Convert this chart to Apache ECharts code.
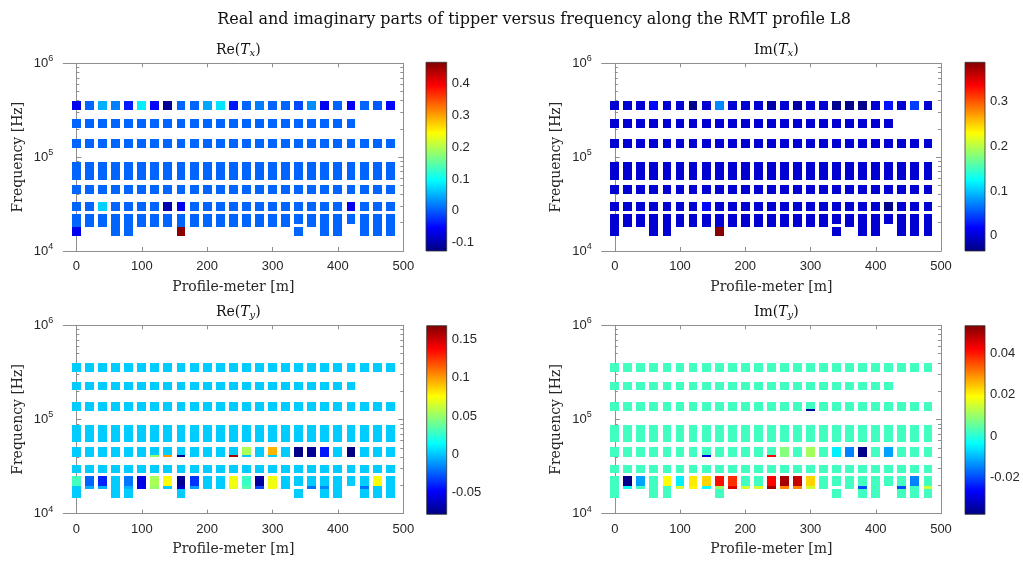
<!DOCTYPE html>
<html>
<head>
<meta charset="utf-8">
<script src="https://cdn.jsdelivr.net/npm/echarts@6/dist/echarts.min.js"></script>
<style>
  html, body { margin: 0; padding: 0; background: #fff; }
  #chart { width: 1023px; height: 561px; }
</style>
</head>
<body>
<div id="chart"></div>
<script>
// ---------- data ----------
// station positions along the profile [m]
var stations = [0, 20, 40, 60, 80, 100, 120, 140, 160, 180, 200, 220, 240, 260, 280, 300, 320, 340, 360, 380, 400, 420, 440, 460, 480];

// frequency bands [Hz], top to bottom (row 3, row 5 and row 7 carry a thin lower strip)
var bandHigh = [394e3, 252e3, 155e3, 128e3, 88e3, 51e3, 42e3, 33.2e3, 24.8e3, 19.5e3, 18.1e3];
var bandLow  = [321e3, 205e3, 128e3, 124e3, 57e3, 42e3, 40e3, 26.8e3, 19.5e3, 18.1e3, 14.6e3];

// one row per band, one value per station (null = no data)
var reTx = [
  [-0.06, 0.006, 0.05, 0.022, -0.037, 0.087, -0.05, -0.114, 0.006, 0.006, 0.045, 0.08, -0.04, 0.006, 0.02, 0.006, 0.006, -0.01, 0.03, -0.06, 0.006, -0.055, 0.006, 0, -0.05],
  [0.006, 0.006, 0.006, 0.006, 0.006, 0.006, 0.006, 0.006, 0.006, 0.006, 0.006, 0.006, 0.006, 0.006, 0.006, 0.006, 0.006, 0.006, 0.006, 0.006, 0.006, 0.006, null, null, null],
  [0.006, 0.006, 0.006, 0.006, 0.006, 0.006, 0.006, 0.006, 0.006, 0.006, 0.006, 0.006, 0.006, 0.006, 0.006, 0.006, 0.006, 0.006, 0.006, 0.006, 0.006, 0.006, 0.006, 0.006, 0.006],
  [0.006, 0.006, 0.006, 0.006, 0.006, 0.006, 0.006, 0.006, 0.006, 0.006, 0.006, 0.006, 0.006, 0.006, 0.006, 0.006, 0.006, 0.006, 0.006, 0.006, 0.006, 0.006, 0.006, 0.006, 0.006],
  [0.006, 0.006, 0.006, 0.006, 0.006, 0.006, 0.006, 0.006, 0.006, 0.006, 0.006, 0.006, 0.006, 0.006, 0.006, 0.006, 0.006, 0.006, 0.006, 0.006, 0.006, 0.006, 0.006, 0.006, 0.006],
  [0.006, 0.006, 0.006, 0.006, 0.006, 0.006, 0.006, 0.006, 0.006, 0.006, 0.006, 0.006, 0.006, 0.006, 0.006, 0.006, 0.006, 0.006, 0.006, 0.006, 0.006, 0.006, 0.006, 0.006, 0.006],
  [0.006, 0.006, 0.006, 0.006, 0.006, 0.006, 0.006, 0.006, 0.006, 0.006, 0.006, 0.006, 0.006, 0.006, 0.006, 0.006, 0.006, 0.006, 0.006, 0.006, 0.006, 0.006, 0.006, 0.006, 0.006],
  [0.006, 0.006, 0.07, 0.006, 0.006, 0.006, 0.006, -0.1, -0.06, 0.006, 0.006, 0.006, 0.006, 0.006, 0.006, 0.006, 0.006, 0.006, 0.006, 0.006, 0.006, -0.06, 0.006, 0.006, 0.006],
  [0.006, 0.006, 0.006, 0.006, 0.006, 0.006, 0.006, 0.006, 0.006, 0.006, 0.006, 0.006, 0.006, 0.006, 0.006, 0.006, 0.006, 0.006, 0.006, 0.006, 0.006, 0.006, 0.006, 0.006, 0.006],
  [0.006, 0.006, 0.006, 0.006, 0.006, 0.006, 0.006, 0.006, 0.006, 0.006, 0.006, 0.006, 0.006, 0.006, 0.006, 0.006, 0.006, null, 0.006, 0.006, 0.006, null, 0.006, 0.006, 0.006],
  [-0.06, null, null, 0.006, 0.006, null, null, null, 0.46, null, null, null, null, null, null, null, null, 0.006, null, 0.006, 0.006, null, 0.006, 0.006, 0.006]
];

var imTx = [
  [0, 0, 0, 0.021, 0, 0, -0.03, 0, 0.075, 0, 0, 0, -0.017, 0, -0.02, 0, 0, -0.027, -0.03, -0.03, 0, 0.025, 0, 0.044, 0],
  [0, 0, 0, 0, 0, 0, 0, 0, 0, 0, 0, 0, 0, 0, 0, 0, 0, 0, 0, 0, 0, 0, null, null, null],
  [0, 0, 0, 0, 0, 0, 0, 0, 0, 0, 0, 0, 0, 0, 0, 0, 0, 0, 0, 0, 0, 0, 0, 0, 0],
  [0, 0, 0, 0, 0, 0, 0, 0, 0, 0, 0, 0, 0, 0, 0, 0, 0, 0, 0, 0, 0, 0, 0, 0, 0],
  [0, 0, 0, 0, 0, 0, 0, 0, 0, 0, 0, 0, 0, 0, 0, 0, 0, 0, 0, 0, 0, 0, 0, 0, 0],
  [0, 0, 0, 0, 0, 0, 0, 0, 0, 0, 0, 0, 0, 0, 0, 0, 0, 0, 0, 0, 0, 0, 0, 0, 0],
  [0, 0, 0, 0, 0, 0, 0, 0, 0, 0, 0, 0, 0, 0, 0, 0, 0, 0, 0, 0, 0, 0, 0, 0, 0],
  [0, 0, 0, 0, 0, 0, 0, 0.02, 0, 0, 0, 0, 0, 0, 0, 0, 0, 0, 0, 0, 0, -0.03, 0, 0, 0],
  [0, 0, 0, 0, 0, 0, 0, 0, 0, 0, 0, 0, 0, 0, 0, 0, 0, 0, 0, 0, 0, 0, 0, 0, 0],
  [0, 0, 0, 0, 0, 0, 0, 0, 0, 0, 0, 0, 0, 0, 0, 0, 0, null, 0, 0, 0, null, 0, 0, 0],
  [0, null, null, 0, 0, null, null, null, 0.385, null, null, null, null, null, null, null, null, 0, null, 0, 0, null, 0, 0, 0]
];

var reTy = [
  [0.002, 0.002, 0.002, 0.002, 0.002, 0.002, 0.002, 0.002, 0.002, 0.002, 0.002, 0.002, 0.002, 0.002, 0.002, 0.002, 0.002, 0.002, 0.002, 0.002, 0.002, 0.002, 0.002, 0.002, 0.002],
  [0.002, 0.002, 0.002, 0.002, 0.002, 0.002, 0.002, 0.002, 0.002, 0.002, 0.002, 0.002, 0.002, 0.002, 0.002, 0.002, 0.002, 0.002, 0.002, 0.002, 0.002, 0.002, null, null, null],
  [0.002, 0.002, 0.002, 0.002, 0.002, 0.002, 0.002, 0.002, 0.002, 0.002, 0.002, 0.002, 0.002, 0.002, 0.002, 0.002, 0.002, 0.002, 0.002, 0.002, 0.002, 0.002, 0.002, 0.002, 0.002],
  [0.002, 0.002, 0.002, 0.002, 0.002, 0.002, 0.002, 0.002, 0.002, 0.002, 0.002, 0.002, 0.002, 0.002, 0.002, 0.002, 0.002, 0.002, 0.002, 0.002, 0.002, 0.002, 0.002, 0.002, 0.002],
  [0.002, 0.002, 0.002, 0.002, 0.002, 0.002, 0.002, 0.002, 0.002, 0.002, 0.002, 0.002, 0.002, 0.002, 0.002, 0.002, 0.002, 0.002, 0.002, 0.002, 0.002, 0.002, 0.002, 0.002, 0.002],
  [0.002, 0.002, 0.002, 0.002, 0.002, 0.002, 0.002, 0.002, 0.002, 0.002, 0.002, 0.002, 0.002, 0.055, 0.002, 0.094, 0.002, -0.076, -0.072, -0.042, 0.002, -0.078, 0.002, 0.002, 0.002],
  [0.002, 0.002, 0.002, 0.002, 0.002, 0.002, 0.05, 0.1, -0.075, 0.002, 0.002, 0.002, 0.16, 0.002, 0.002, 0.002, 0.002, -0.076, -0.072, -0.042, 0.002, -0.078, 0.002, 0.002, 0.002],
  [0.002, 0.002, 0.002, 0.002, 0.002, 0.002, 0.002, 0.002, 0.002, 0.002, 0.002, 0.002, 0.002, 0.002, 0.002, 0.002, 0.002, 0.002, 0.002, 0.002, 0.002, 0.002, 0.002, 0.002, 0.002],
  [0.03, -0.023, -0.039, 0.002, -0.019, -0.053, 0.055, 0.075, -0.073, -0.035, 0.002, 0.002, 0.073, 0.028, -0.07, 0.072, 0.002, 0.002, 0.002, 0.002, 0.002, 0.002, 0.002, 0.075, 0.002],
  [0.002, -0.005, -0.005, 0.002, -0.005, -0.05, 0.05, 0.002, -0.06, -0.01, 0.002, 0.002, 0.07, 0.035, -0.03, 0.072, 0.002, null, -0.02, -0.015, 0.002, null, -0.02, 0.002, 0.002],
  [0.002, null, null, 0.002, 0.002, null, null, null, 0.002, null, null, null, null, null, null, null, null, 0.002, null, 0.002, 0.002, null, 0.002, 0.002, 0.002]
];

var imTy = [
  [0.002, 0.002, 0.002, 0.002, 0.002, 0.002, 0.002, 0.002, 0.002, 0.002, 0.002, 0.002, 0.002, 0.002, 0.002, 0.002, 0.002, 0.002, 0.002, 0.002, 0.002, 0.002, 0.002, 0.002, 0.002],
  [0.002, 0.002, 0.002, 0.002, 0.002, 0.002, 0.002, 0.002, 0.002, 0.002, 0.002, 0.002, 0.002, 0.002, 0.002, 0.002, 0.002, 0.002, 0.002, 0.002, 0.002, 0.002, null, null, null],
  [0.002, 0.002, 0.002, 0.002, 0.002, 0.002, 0.002, 0.002, 0.002, 0.002, 0.002, 0.002, 0.002, 0.002, 0.002, 0.002, 0.002, 0.002, 0.002, 0.002, 0.002, 0.002, 0.002, 0.002, 0.002],
  [0.002, 0.002, 0.002, 0.002, 0.002, 0.002, 0.002, 0.002, 0.002, 0.002, 0.002, 0.002, 0.002, 0.002, 0.002, -0.035, 0.002, 0.002, 0.002, 0.002, 0.002, 0.002, 0.002, 0.002, 0.002],
  [0.002, 0.002, 0.002, 0.002, 0.002, 0.002, 0.002, 0.002, 0.002, 0.002, 0.002, 0.002, 0.002, 0.002, 0.002, 0.002, 0.002, 0.002, 0.002, 0.002, 0.002, 0.002, 0.002, 0.002, 0.002],
  [0.002, 0.002, 0.002, 0.002, 0.002, 0.002, 0.002, 0.002, 0.002, 0.002, 0.002, 0.002, 0.002, 0.008, 0.002, 0.011, 0.002, -0.005, -0.015, -0.037, 0.002, -0.012, 0.002, 0.002, 0.002],
  [0.002, 0.002, 0.002, 0.002, 0.002, 0.002, 0.002, -0.03, 0.002, 0.002, 0.002, 0.002, 0.042, 0.008, 0.002, 0.011, 0.002, -0.005, -0.015, -0.037, 0.002, -0.012, 0.002, 0.002, 0.002],
  [0.002, 0.002, 0.002, 0.002, 0.002, 0.002, 0.002, 0.002, 0.002, 0.002, 0.002, 0.002, 0.002, 0.002, 0.002, 0.002, 0.002, 0.002, 0.002, 0.002, 0.002, 0.002, 0.002, 0.002, 0.002],
  [0.002, -0.037, -0.012, 0.002, 0.019, -0.005, 0.021, 0.023, 0.041, 0.038, 0.002, 0.002, 0.042, 0.05, 0.047, 0.023, 0.002, 0.002, 0.002, 0.002, 0.002, 0.002, 0.002, -0.015, 0.002],
  [0.002, -0.003, 0.002, 0.002, 0.002, 0.015, 0.02, -0.003, 0.01, 0.045, 0.015, 0.015, 0.05, 0.03, 0.03, 0.015, 0.002, null, 0.002, -0.02, 0.002, null, -0.02, 0.002, 0.015],
  [0.002, null, null, 0.002, 0.002, null, null, null, 0.002, null, null, null, null, null, null, null, null, 0.002, null, 0.002, 0.002, null, 0.002, 0.002, 0.002]
];

// colour limits and colorbar tick labels
var reTxRange = [-0.126, 0.466];
var imTxRange = [-0.034, 0.388];
var reTyRange = [-0.078, 0.168];
var imTyRange = [-0.038, 0.0535];
var reTxTicks = [-0.1, 0, 0.1, 0.2, 0.3, 0.4];
var imTxTicks = [0, 0.1, 0.2, 0.3];
var reTyTicks = [-0.05, 0, 0.05, 0.1, 0.15];
var imTyTicks = [-0.02, 0, 0.02, 0.04];

var xTicks = [0, 100, 200, 300, 400, 500];
var yMajor = [1e4, 1e5, 1e6];
var yMinor = [2e4, 3e4, 4e4, 5e4, 6e4, 7e4, 8e4, 9e4, 2e5, 3e5, 4e5, 5e5, 6e5, 7e5, 8e5, 9e5];

// ---------- chart ----------
var sans = 'Liberation Sans, Arial, Helvetica, sans-serif';
var serif = 'DejaVu Serif, Liberation Serif, serif';
var ink = '#262626';
var box = '#8f8f8f';
var jet = ['#000080', '#0000ff', '#0080ff', '#00ffff', '#80ff80', '#ffff00', '#ff8000', '#ff0000', '#800000'];
var jetStops = jet.map(function(c, i) { return { offset: i / (jet.length - 1), color: c }; });
var cellHalfWidth = 6.8;

var panels = [
  { name: 'Re', sub: 'x', values: reTx, range: reTxRange, ticks: reTxTicks,
    grid: { left: 63.3, top: 63.3, width: 340, height: 187.7 }, bar: { left: 426, top: 62.3, width: 20.7, height: 188.7 } },
  { name: 'Im', sub: 'x', values: imTx, range: imTxRange, ticks: imTxTicks,
    grid: { left: 601.7, top: 63.3, width: 339.3, height: 187.7 }, bar: { left: 965, top: 62.3, width: 20, height: 188.7 } },
  { name: 'Re', sub: 'y', values: reTy, range: reTyRange, ticks: reTyTicks,
    grid: { left: 63.3, top: 325.3, width: 340, height: 188.3 }, bar: { left: 426.7, top: 325.7, width: 20, height: 188.6 } },
  { name: 'Im', sub: 'y', values: imTy, range: imTyRange, ticks: imTyTicks,
    grid: { left: 601.7, top: 325.3, width: 339.3, height: 188.3 }, bar: { left: 965, top: 325.7, width: 20, height: 188.6 } }
];

function cellData(values) {
  var out = [];
  values.forEach(function(row, b) {
    row.forEach(function(v, s) {
      if (v === null) return;
      out.push([stations[s], bandLow[b], bandHigh[b], v]);
    });
  });
  return out;
}

// snapped to whole pixels so that touching bands leave no seam
function renderCell(params, api) {
  var x = api.value(0);
  var p1 = api.coord([x - cellHalfWidth, api.value(2)]);
  var p2 = api.coord([x + cellHalfWidth, api.value(1)]);
  var x0 = Math.round(p1[0]), y0 = Math.round(p1[1]);
  var x1 = Math.round(p2[0]), y1 = Math.round(p2[1]);
  return {
    type: 'rect',
    shape: { x: x0, y: y0, width: x1 - x0, height: y1 - y0 },
    style: { fill: api.visual('color') }
  };
}

function renderBar(params, api) {
  var p1 = api.coord([0, api.value(2)]);
  var p2 = api.coord([1, api.value(1)]);
  return {
    type: 'rect',
    shape: { x: p1[0], y: p1[1], width: p2[0] - p1[0], height: p2[1] - p1[1] },
    style: {
      fill: { type: 'linear', x: 0, y: 1, x2: 0, y2: 0, colorStops: jetStops },
      stroke: '#333', lineWidth: 0.8
    }
  };
}

var option = {
  animation: false,
  backgroundColor: '#fff',
  title: [{
    text: 'Real and imaginary parts of tipper versus frequency along the RMT profile L8',
    left: 529, top: 7, textAlign: 'center',
    textStyle: { fontFamily: serif, fontSize: 16, fontWeight: 'normal', color: '#111' }
  }],
  grid: [], xAxis: [], yAxis: [], series: [], visualMap: []
};

panels.forEach(function(p, i) {
  var g = p.grid;
  option.grid.push({ left: g.left, top: g.top, width: g.width, height: g.height, show: false });
  option.grid.push({ left: p.bar.left, top: p.bar.top, width: p.bar.width, height: p.bar.height, show: false });

  option.title.push({
    text: p.name + '({it|T}{sub|' + p.sub + '})',
    left: g.left + g.width / 2, top: g.top - 26, textAlign: 'center',
    textStyle: {
      fontFamily: serif, fontSize: 14, fontWeight: 'normal', color: '#111',
      rich: {
        it: { fontFamily: serif, fontSize: 14, fontStyle: 'italic', color: '#111' },
        sub: { fontFamily: serif, fontSize: 10, fontStyle: 'italic', color: '#111', padding: [6, 0, 0, 0] }
      }
    }
  });

  var gi = 2 * i;
  // bottom x axis with labels
  option.xAxis.push({
    type: 'value', gridIndex: gi, position: 'bottom', min: -20, max: 500,
    name: 'Profile-meter [m]', nameLocation: 'middle', nameGap: 29,
    nameTextStyle: { fontFamily: serif, fontSize: 14, color: ink },
    axisLine: { show: true, lineStyle: { color: box, width: 1 } },
    axisTick: { show: true, inside: true, length: 4, customValues: xTicks, lineStyle: { color: box } },
    axisLabel: { customValues: xTicks, fontFamily: sans, fontSize: 13, color: ink, margin: 9 },
    splitLine: { show: false }
  });
  // top x axis, ticks only
  option.xAxis.push({
    type: 'value', gridIndex: gi, position: 'top', min: -20, max: 500,
    axisLine: { show: true, lineStyle: { color: box, width: 1 } },
    axisTick: { show: true, inside: true, length: 4, customValues: xTicks, lineStyle: { color: box } },
    axisLabel: { show: false }, splitLine: { show: false }
  });
  // colorbar x axis
  option.xAxis.push({ type: 'value', gridIndex: gi + 1, min: 0, max: 1, show: false });

  var logBase = { type: 'log', logBase: 10, gridIndex: gi, min: 1e4, max: 1e6, splitLine: { show: false } };
  option.yAxis.push(Object.assign({}, logBase, {
    position: 'left',
    name: 'Frequency [Hz]', nameLocation: 'middle', nameGap: 38,
    nameTextStyle: { fontFamily: serif, fontSize: 14, color: ink },
    axisLine: { show: true, lineStyle: { color: box, width: 1 } },
    axisTick: { show: true, inside: true, length: 5, customValues: yMajor, lineStyle: { color: box } },
    axisLabel: {
      customValues: yMajor, margin: 10, color: ink,
      formatter: function(v) { return '{b|10}{s|' + Math.round(Math.log10(v)) + '}'; },
      rich: {
        b: { fontFamily: sans, fontSize: 13, color: ink },
        s: { fontFamily: sans, fontSize: 9, color: ink, padding: [0, 0, 9, 0] }
      }
    }
  }));
  option.yAxis.push(Object.assign({}, logBase, {
    position: 'left',
    axisLine: { show: false },
    axisTick: { show: true, inside: true, length: 3, customValues: yMinor, lineStyle: { color: box } },
    axisLabel: { show: false }
  }));
  option.yAxis.push(Object.assign({}, logBase, {
    position: 'right',
    axisLine: { show: true, lineStyle: { color: box, width: 1 } },
    axisTick: { show: true, inside: true, length: 5, customValues: yMajor, lineStyle: { color: box } },
    axisLabel: { show: false }
  }));
  option.yAxis.push(Object.assign({}, logBase, {
    position: 'right',
    axisLine: { show: false },
    axisTick: { show: true, inside: true, length: 3, customValues: yMinor, lineStyle: { color: box } },
    axisLabel: { show: false }
  }));
  // colorbar axis
  option.yAxis.push({
    type: 'value', gridIndex: gi + 1, position: 'right', min: p.range[0], max: p.range[1],
    axisLine: { show: false }, axisTick: { show: false }, splitLine: { show: false },
    axisLabel: { customValues: p.ticks, fontFamily: sans, fontSize: 13, color: ink, margin: 5 }
  });

  var seriesIndex = option.series.length;
  option.series.push({
    type: 'custom', xAxisIndex: 3 * i, yAxisIndex: 5 * i,
    renderItem: renderCell, encode: { x: 0, y: [1, 2] },
    data: cellData(p.values), silent: true
  });
  option.series.push({
    type: 'custom', xAxisIndex: 3 * i + 2, yAxisIndex: 5 * i + 4,
    renderItem: renderBar, encode: { x: 0, y: [1, 2] },
    data: [[0, p.range[0], p.range[1]]], silent: true
  });
  option.visualMap.push({
    type: 'continuous', show: false, seriesIndex: seriesIndex, dimension: 3,
    min: p.range[0], max: p.range[1], inRange: { color: jet }
  });
});

var chart = echarts.init(document.getElementById('chart'));
chart.setOption(option);
window.addEventListener('resize', function() { chart.resize(); });
</script>
</body>
</html>
